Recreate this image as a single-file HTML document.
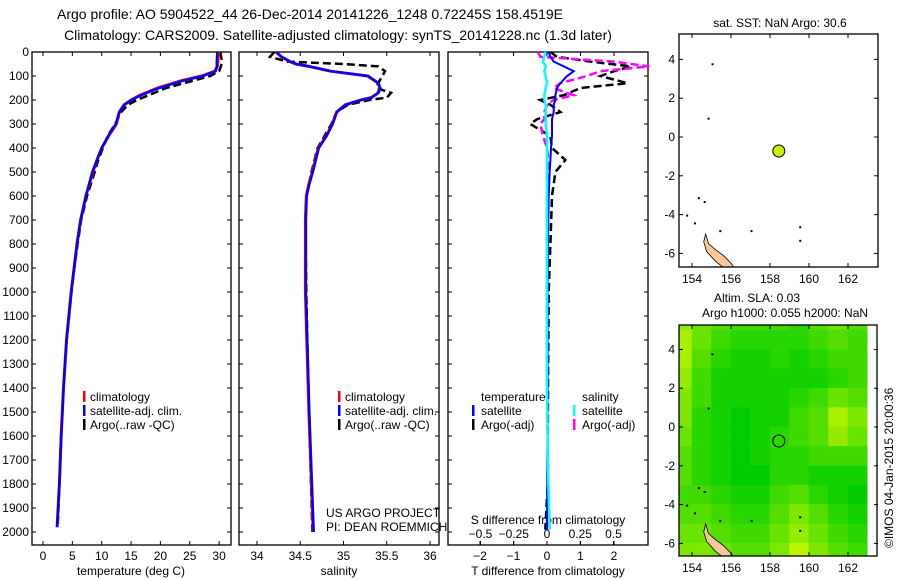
<!DOCTYPE html>
<html><head><meta charset="utf-8"><style>
html,body{margin:0;padding:0;background:#fff;}
svg{display:block;font-family:"Liberation Sans",sans-serif;font-size:12px;}
</style></head><body>
<svg id="fig" width="900" height="580" viewBox="0 0 900 580">
<text x="310" y="19" text-anchor="middle" font-size="14">Argo profile: AO 5904522_44 26-Dec-2014 20141226_1248 0.72245S 158.4519E</text>
<text x="338" y="40" text-anchor="middle" font-size="14">Climatology: CARS2009. Satellite-adjusted climatology: synTS_20141228.nc (1.3d later)</text>
<g id="g"></g>
</svg>
<script>
// ---- data ----
const depthT = [0,40,60,80,100,120,150,180,200,220,250,300,350,400,450,500,600,700,800,900,1000,1200,1400,1600,1800,1980];
const tempClim = [29.9,29.8,29.7,29.3,27,23.5,19.5,16.5,15,13.8,13,12.5,11.2,10,9.2,8.5,7.3,6.4,5.8,5.3,4.8,4.0,3.5,3.1,2.8,2.4];
const tempSat  = [29.7,29.6,29.6,29.4,27.2,23.8,19.8,16.7,15.1,13.9,13,12.4,11.1,10,9.2,8.4,7.3,6.4,5.8,5.3,4.8,4.0,3.5,3.1,2.8,2.4];
const tempArgo = [30.2,30.5,30.3,30,28.5,25.5,21,18,16,14.5,13.3,12.3,11.0,10.2,9.4,8.8,7.5,6.5,5.9,5.35,4.85,4.05,3.5,3.1,2.8,2.5];
const depthS = [0,20,40,50,60,80,100,130,150,170,190,200,220,250,300,350,400,500,550,600,700,1000,1500,2000];
const salClim = [34.22,34.28,34.38,34.45,34.6,34.85,35.28,35.4,35.42,35.4,35.32,35.2,35.02,34.92,34.87,34.8,34.71,34.64,34.6,34.57,34.56,34.56,34.6,34.65];
const salArgo = [34.2,34.15,34.35,35.0,35.4,35.48,35.45,35.4,35.38,35.55,35.5,35.3,35.05,34.92,34.86,34.78,34.7,34.63,34.6,34.57,34.56,34.57,34.6,34.64];
const depthD = [0,20,40,60,80,100,130,150,180,200,220,250,280,300,350,400,450,500,600,800,1000,1400,1800,1990];
const tDiffSat  = [0.05,0.1,0.2,0.5,0.8,0.6,0.4,0.3,0.25,0.25,0.2,0.2,0.15,0.15,0.15,0.12,0.1,0.08,0.05,0.03,0.02,0.02,0.01,0.0];
const tDiffArgo = [0.1,0.3,1.3,2.5,2.0,1.6,2.4,1.0,0.5,-0.2,0.1,0.4,-0.3,-0.5,0.1,0.15,0.55,0.25,0.15,0.1,0.05,0.03,0.02,-0.05];
const sDiffSat  = [-0.01,-0.02,-0.03,-0.01,-0.02,-0.01,0.0,-0.01,-0.02,-0.02,-0.01,-0.01,-0.01,-0.01,0.0,0.0,0.0,0.0,0.0,0.0,0.0,0.0,0.01,0.02];
const sDiffArgo = [-0.07,-0.05,0.5,0.77,0.4,0.3,0.1,0.05,0.2,0.05,0.0,-0.02,-0.02,-0.05,-0.03,0.0,0.01,0.01,0.0,0.0,0.0,0.0,0.01,0.02];
const tTicks = [0,5,10,15,20,25,30];
const sTicks = [34,34.5,35,35.5,36];
const dTicks = [-2,-1,0,1,2];
const sdTicks = [-0.5,-0.25,0,0.25,0.5];
const depthTicks = [0,100,200,300,400,500,600,700,800,900,1000,1100,1200,1300,1400,1500,1600,1700,1800,1900,2000];
const lonTicks = [154,156,158,160,162];
const latTicks = [4,2,0,-2,-4,-6];
const floatLon = 158.4519, floatLat = -0.72245;
const heatLons = [153,154,155,156,157,158,159,160,161,162];
const heatLats = [6,5,4,3,2,1,0,-1,-2,-3,-4,-5,-6];
const heatVals = [
[0.7,0.5,0.4,0.3,0.3,0.3,0.2,0.4,0.5,0.4],
[0.8,0.5,0.3,0.2,0.2,0.2,0.2,0.3,0.4,0.3],
[0.8,0.4,0.2,0.1,0.1,0.2,0.1,0.2,0.3,0.3],
[0.7,0.3,0.1,0.1,0.1,0.1,0.1,0.1,0.2,0.3],
[0.6,0.3,0.1,0.1,0.1,0.1,0.2,0.3,0.5,0.4],
[0.6,0.2,0.1,0.0,0.1,0.1,0.3,0.4,0.8,0.6],
[0.5,0.2,0.1,0.0,0.1,0.2,0.3,0.4,0.7,0.5],
[0.4,0.2,0.1,0.0,0.1,0.2,0.2,0.3,0.3,0.3],
[0.4,0.2,0.1,0.0,0.0,0.2,0.2,0.1,0.1,0.1],
[0.3,0.3,0.2,0.1,0.1,0.3,0.4,0.2,0.1,0.0],
[0.4,0.4,0.3,0.2,0.2,0.4,0.6,0.4,0.2,0.1],
[0.5,0.5,0.4,0.3,0.3,0.5,0.7,0.5,0.3,0.2],
[0.6,0.6,0.5,0.4,0.4,0.6,0.9,0.6,0.4,0.3]];

const NS='http://www.w3.org/2000/svg';
const G=document.getElementById('g');
function mk(tag,attrs,parent){const e=document.createElementNS(NS,tag);for(const k in attrs)e.setAttribute(k,attrs[k]);(parent||G).appendChild(e);return e;}
const yD = d => 52 + d*0.24;
const xT = t => 43 + t*5.87;
const xS = s => 257 + (s-34)*86.5;
const xTD = t => 547 + t*33.5;
const xSD = s => 547 + s*133;

function frame(x0,x1,y0,y1,name){
  const r=mk('rect',{x:x0,y:y0,width:x1-x0,height:y1-y0,fill:'none',stroke:'#000','stroke-width':1.3});
  
  
}
function depthTicksFor(x0,x1,labels){
  depthTicks.forEach(d=>{
    const y=yD(d);
    const a=mk('line',{x1:x0,y1:y,x2:x0+4,y2:y,stroke:'#000'});
    
    
    const b=mk('line',{x1:x1-4,y1:y,x2:x1,y2:y,stroke:'#000'});
    
    
    if(labels){const t=mk('text',{x:x0-3,y:y+4,'text-anchor':'end'});t.textContent=d;
      
      }
  });
}
function xticks(vals,fx,y0,y1,ly,name,top){
  vals.forEach(v=>{
    const x=fx(v);
    const a=mk('line',{x1:x,y1:y1,x2:x,y2:y1-4,stroke:'#000'});
    
    
    if(top){const b=mk('line',{x1:x,y1:y0,x2:x,y2:y0+4,stroke:'#000'});
      
      }
    const t=mk('text',{x:x,y:ly,'text-anchor':'middle'});t.textContent=String(v).replace('-','\u2212');
    
    
  });
}
function line(xs,ds,fx,color,w,dash,name){
  const pts=xs.map((v,i)=>fx(v).toFixed(1)+','+yD(ds[i]).toFixed(1)).join(' ');
  const p=mk('polyline',{points:pts,fill:'none',stroke:color,'stroke-width':w,'stroke-dasharray':dash||'none'});
  
  
}
function text(x,y,s,name,anchor){const t=mk('text',{x:x,y:y,'text-anchor':anchor||'start'});t.textContent=s;
  
  return t;}
function legBar(x,y,c,name){const r=mk('rect',{x:x,y:y-10,width:2.5,height:11,fill:c});
  
  }

// Panel 1 temperature
frame(32,231,52,545,'temperature-panel-frame');
depthTicksFor(32,231,true);
xticks(tTicks,xT,52,545,560,'temperature',true);
text(131,575,'temperature (deg C)','temperature-axis-title','middle');
line(tempArgo,depthT,xT,'#000',2.5,'8,4','temperature-argo-line');
line(tempClim,depthT,xT,'#f00',3,null,'temperature-climatology-line');
line(tempSat,depthT,xT,'#00f',2.5,null,'temperature-satellite-line');
legBar(83,401,'#f00','legend-climatology-marker');text(90,401,'climatology','legend-climatology');
legBar(83,415,'#00f','legend-satellite-marker');text(90,415,'satellite-adj. clim.','legend-satellite');
legBar(83,429,'#000','legend-argo-marker');text(90,429,'Argo(..raw -QC)','legend-argo');

// Panel 2 salinity
frame(239,439,52,545,'salinity-panel-frame');
depthTicksFor(239,439,false);
xticks(sTicks,xS,52,545,560,'salinity',true);
text(339,575,'salinity','salinity-axis-title','middle');
line(salArgo,depthS,xS,'#000',2.5,'8,4','salinity-argo-line');
line(salClim,depthS,xS,'#f00',3,null,'salinity-climatology-line');
line(salClim.map(v=>v+0.005),depthS,xS,'#00f',2.5,null,'salinity-satellite-line');
legBar(338,401,'#f00','legend2-climatology-marker');text(345,401,'climatology','legend2-climatology');
legBar(338,415,'#00f','legend2-satellite-marker');text(345,415,'satellite-adj. clim.','legend2-satellite');
legBar(338,429,'#000','legend2-argo-marker');text(345,429,'Argo(..raw -QC)','legend2-argo');
text(326,517,'US ARGO PROJECT','credit-project');
text(326,531,'PI: DEAN ROEMMICH','credit-pi');

// Panel 3 differences
frame(448,648,52,545,'difference-panel-frame');
depthTicksFor(448,648,false);
xticks(dTicks,xTD,52,545,560,'t-diff',true);
xticks(sdTicks,xSD,52,545,538,'s-diff',false);
text(548,524,'S difference from climatology','s-diff-axis-title','middle');
text(548,575,'T difference from climatology','t-diff-axis-title','middle');
line(tDiffArgo,depthD,xTD,'#000',2.5,'8,4','t-diff-argo-line');
line(sDiffArgo,depthD,xSD,'#f0f',2.5,'8,4','s-diff-argo-line');
line(tDiffSat,depthD,xTD,'#00f',2,null,'t-diff-satellite-line');
line(sDiffSat,depthD,xSD,'#0ff',2.5,null,'s-diff-satellite-line');
text(481,401,'temperature','legend3-temperature-header');
legBar(472,415,'#00f','legend3-t-satellite-marker');text(481,415,'satellite','legend3-t-satellite');
legBar(472,429,'#000','legend3-t-argo-marker');text(481,429,'Argo(-adj)','legend3-t-argo');
text(582,401,'salinity','legend3-salinity-header');
legBar(573,415,'#0ff','legend3-s-satellite-marker');text(582,415,'satellite','legend3-s-satellite');
legBar(573,429,'#f0f','legend3-s-argo-marker');text(582,429,'Argo(-adj)','legend3-s-argo');

// Maps
const mX = lon => 692 + (lon-154)*19.5;
function mapAxes(top,bottom,zeroY,name){
  const mY = lat => zeroY - lat*19.4;
  lonTicks.forEach(l=>{const x=mX(l);
    const a=mk('line',{x1:x,y1:bottom,x2:x,y2:bottom-4,stroke:'#000'});
    
    
    const b=mk('line',{x1:x,y1:top,x2:x,y2:top+4,stroke:'#000'});
    
    
    text(x,bottom+16,String(l),name+'-lon-label','middle');});
  latTicks.forEach(l=>{const y=mY(l);
    const a=mk('line',{x1:679,y1:y,x2:683,y2:y,stroke:'#000'});
    
    
    const b=mk('line',{x1:874,y1:y,x2:878,y2:y,stroke:'#000'});
    
    
    text(675,y+4,String(l),name+'-lat-label','end');});
  return mY;
}
function island(mY,name,parent){
  const pts=[[154.7,-5.0],[154.85,-5.5],[155.2,-5.8],[155.6,-6.1],[156.0,-6.5],[156.2,-6.8],[155.7,-6.8],[155.2,-6.4],[154.75,-5.9],[154.6,-5.4]];
  const p=mk('polygon',{points:pts.map(q=>mX(q[0])+','+mY(q[1])).join(' '),fill:'#f8c898',stroke:'#000','stroke-width':0.8},parent);
  
  
  [[155,3.8],[154.8,1],[154.3,-3.1],[154.6,-3.3],[153.7,-4],[154.1,-4.4],[155.4,-4.8],[157,-4.8],[159.5,-4.6],[159.5,-5.3]].forEach(q=>{
    const d=mk('rect',{x:mX(q[0]),y:mY(q[1]),width:2,height:2,fill:'#000'},parent);
    
    
  });
}
// Map 1
text(780,27,'sat. SST: NaN Argo: 30.6','sst-map-title','middle');
const clip1=mk('clipPath',{id:'c1'});mk('rect',{x:679,y:34,width:199,height:233},clip1);
const mY1=mapAxes(34,267,137,'sst-map');
const gm1=mk('g',{'clip-path':'url(#c1)'});
island(mY1,'sst-map-island',gm1);
frame(679,878,34,267,'sst-map-frame');
const c1=mk('circle',{cx:mX(floatLon),cy:mY1(floatLat),r:6,fill:'#c8f000',stroke:'#000'});



// Map 2
text(757,302,'Altim. SLA: 0.03','sla-map-title-1','middle');
text(785,317,'Argo h1000: 0.055 h2000: NaN','sla-map-title-2','middle');
const clip2=mk('clipPath',{id:'c2'});mk('rect',{x:679,y:325,width:198,height:231},clip2);
const mY2 = lat => 427 - lat*19.4;
const hg=mk('g',{'clip-path':'url(#c2)'});


heatLats.forEach((lat,i)=>heatLons.forEach((lon,j)=>{
  const v=heatVals[i][j];
  const col='rgb('+Math.round(210*v)+','+Math.round(205+43*v)+',0)';
  const r=mk('rect',{x:mX(lon)-0.3,y:mY2(lat)-0.3,width:19.8,height:19.7,fill:col},hg);
  
  
}));
const gis=mk('g',{'clip-path':'url(#c2)'});
island(mY2,'sla-map-island',gis);
mapAxes(325,556,427,'sla-map');
frame(679,877,325,556,'sla-map-frame');
const c2=mk('circle',{cx:mX(floatLon),cy:mY2(floatLat),r:6,fill:'none',stroke:'#000'});



const rt=mk('text',{x:0,y:0,transform:'translate(893,548) rotate(-90)'});
rt.textContent='\u00a9IMOS 04-Jan-2015 20:00:36';


</script>
</body></html>
